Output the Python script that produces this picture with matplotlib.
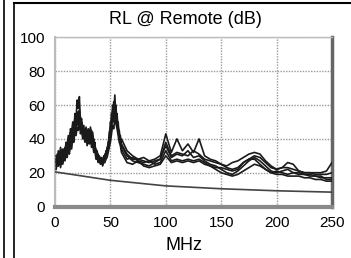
import numpy as np
import matplotlib
matplotlib.use("Agg")
import matplotlib.pyplot as plt
from matplotlib.lines import Line2D

plt.rcParams['font.family'] = ['Liberation Sans', 'DejaVu Sans']

# frequency points (MHz): 1 MHz steps up to 60, then 5 MHz steps
freq = list(range(1, 61)) + list(range(65, 251, 5))

# return loss traces (dB)
rl_a = [26, 31, 24, 30, 27, 33, 28, 34, 30, 36,
        33, 40, 35, 44, 40, 48, 45, 55, 52, 63,
        58, 65, 50, 52, 44, 48, 40, 46, 41, 45,
        42, 47, 40, 44, 36, 38, 31, 33, 28, 30,
        27, 29, 26, 30, 28, 33, 32, 38, 40, 50,
        48, 60, 55, 66, 52, 55, 44, 45, 38, 40,
        33, 30, 28, 29, 27, 28, 30, 43, 32, 40, 33, 37, 32, 40, 30, 28, 27, 25, 24,
        26, 27, 29, 31, 32, 31, 27, 24, 22, 23, 26, 25, 21, 20, 20, 20, 20, 21, 26]
rl_b = [28, 24, 30, 26, 32, 27, 31, 29, 35, 32,
        38, 34, 42, 38, 46, 42, 50, 47, 54, 50,
        55, 49, 53, 45, 47, 42, 44, 39, 43, 40,
        44, 41, 45, 38, 40, 33, 34, 29, 31, 27,
        29, 26, 28, 27, 31, 30, 35, 36, 44, 46,
        55, 52, 62, 57, 60, 48, 50, 41, 42, 36,
        30, 27, 26, 25, 24, 26, 28, 36, 29, 31, 30, 33, 29, 30, 27, 25, 24, 22, 20,
        19, 21, 24, 27, 29, 27, 24, 21, 20, 21, 22, 20, 19, 19, 18, 18, 17, 17, 17]
rl_c = [24, 29, 27, 32, 25, 30, 26, 32, 28, 33,
        31, 36, 33, 41, 37, 44, 41, 49, 45, 52,
        48, 53, 46, 49, 42, 45, 41, 44, 38, 42,
        39, 43, 37, 40, 34, 35, 30, 31, 27, 28,
        26, 27, 25, 28, 27, 30, 31, 34, 37, 42,
        46, 54, 50, 58, 53, 50, 45, 40, 39, 34,
        28, 29, 27, 26, 27, 25, 26, 33, 27, 28, 27, 28, 27, 28, 26, 24, 22, 20, 19,
        18, 19, 21, 23, 25, 24, 22, 20, 19, 19, 18, 18, 18, 17, 17, 16, 16, 15, 15]
rl_d = [22, 26, 24, 28, 23, 27, 25, 29, 27, 31,
        29, 34, 31, 38, 34, 40, 38, 45, 42, 47,
        45, 50, 43, 46, 40, 42, 38, 41, 36, 39,
        37, 40, 35, 37, 32, 33, 28, 29, 26, 27,
        25, 26, 24, 26, 26, 28, 29, 32, 35, 38,
        43, 48, 46, 52, 49, 46, 42, 38, 36, 32,
        26, 25, 27, 24, 23, 24, 25, 30, 26, 27, 26, 27, 26, 27, 25, 24, 23, 23, 22,
        21, 22, 26, 28, 28, 25, 22, 20, 21, 20, 19, 20, 20, 19, 19, 18, 18, 16, 16]
rl_e = [30, 27, 33, 29, 35, 31, 34, 30, 33, 38,
        36, 42, 39, 46, 43, 50, 47, 52, 49, 56,
        52, 57, 47, 50, 43, 46, 42, 47, 42, 46,
        43, 46, 41, 42, 37, 36, 32, 32, 29, 29,
        28, 28, 27, 29, 29, 31, 33, 35, 39, 45,
        50, 57, 53, 61, 56, 52, 47, 43, 40, 37,
        31, 28, 28, 27, 26, 27, 28, 38, 30, 32, 31, 30, 33, 31, 28, 27, 26, 25, 23,
        22, 23, 26, 28, 30, 29, 26, 23, 22, 23, 23, 22, 21, 20, 20, 19, 19, 19, 20]

# limit line
limit_f = [0, 10, 20, 50, 100, 150, 200, 250]
limit_rl = [20.5, 19.5, 18.5, 15.5, 12.2, 10.5, 9.3, 8.5]

x_ticks = [0, 50, 100, 150, 200, 250]
y_ticks = [0, 20, 40, 60, 80, 100]

fig = plt.figure(figsize=(3.51, 2.58), dpi=100)
ax = fig.add_axes([55 / 351, 1 - 206.5 / 258, 277 / 351, 169 / 258])

for tr in [rl_a, rl_b, rl_c, rl_d, rl_e]:
    ax.plot(freq, tr, color='#1a1a1a', lw=1.2, zorder=3)
ax.plot(limit_f, limit_rl, color='#444444', lw=1.2, zorder=3)

ax.set_xlim(0, 250)
ax.set_ylim(0, 100)
ax.set_xticks(x_ticks)
ax.set_yticks(y_ticks)
ax.tick_params(length=0, labelsize=11, pad=7)
ax.grid(True, color='#999999', linestyle=(0, (1, 1)), lw=1)
ax.set_axisbelow(True)

ax.spines['left'].set_color('#bbbbbb')
ax.spines['left'].set_linewidth(1.5)
ax.spines['top'].set_color('#bbbbbb')
ax.spines['top'].set_linewidth(1)
ax.spines['bottom'].set_color('#8a8a8a')
ax.spines['bottom'].set_linewidth(3)
ax.spines['right'].set_color('#666666')
ax.spines['right'].set_linewidth(2.5)

fig.text(185 / 351, 1 - 20 / 258, 'RL @ Remote (dB)', ha='center', va='center', fontsize=13)
fig.text(184 / 351, 1 - 245 / 258, 'MHz', ha='center', va='center', fontsize=13)

# panel frame
fig.add_artist(Line2D([4 / 351, 4 / 351], [0, 1], color='black', lw=1.2))
fig.add_artist(Line2D([14 / 351, 14 / 351], [0, 1 - 3 / 258], color='black', lw=1.2))
fig.add_artist(Line2D([14 / 351, 1], [1 - 3 / 258, 1 - 3 / 258], color='black', lw=1.5))

fig.savefig('out.png', dpi=100)
